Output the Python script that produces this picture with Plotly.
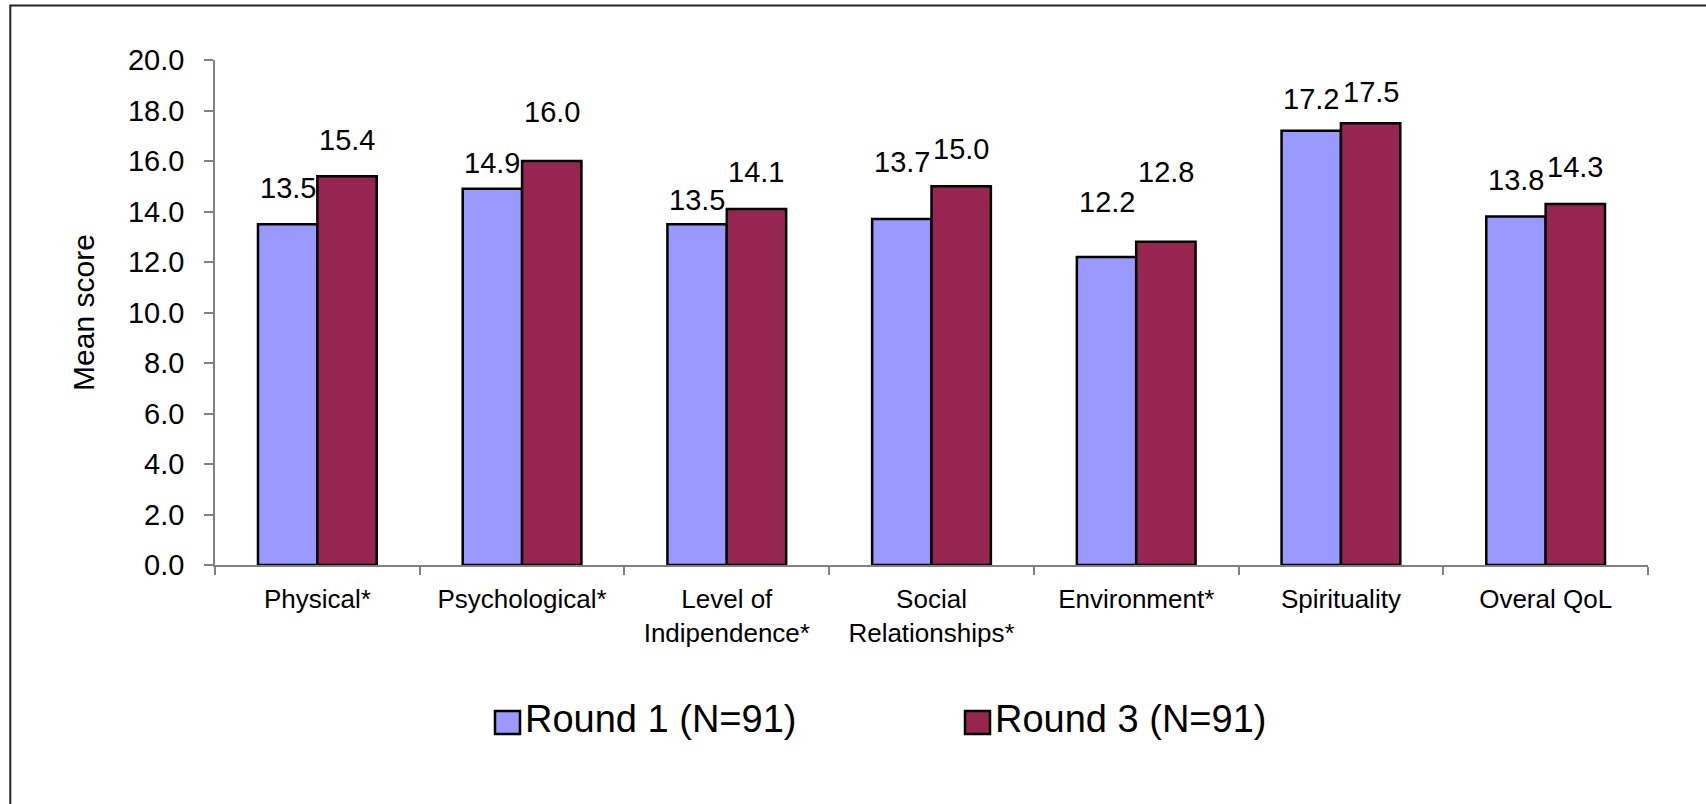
import plotly.graph_objects as go

# WHOQOL domain means, two survey rounds
categories = [
    "Physical*",
    "Psychological*",
    "Level of<br>Indipendence*",
    "Social<br>Relationships*",
    "Environment*",
    "Spirituality",
    "Overal QoL",
]
round1 = [13.5, 14.9, 13.5, 13.7, 12.2, 17.2, 13.8]
round3 = [15.4, 16.0, 14.1, 15.0, 12.8, 17.5, 14.3]
series_names = ["Round 1 (N=91)", "Round 3 (N=91)"]
y_ticks = [0, 2, 4, 6, 8, 10, 12, 14, 16, 18, 20]

# label lift above the bar top (px), per label
lift1 = [36, 26, 24, 57, 55, 32, 37]
lift3 = [36, 49, 37, 37, 70, 31, 37]

# styling
W, H = 1706, 804
ML, MR, MT, MB = 215, 58, 60, 239
PW, PH = W - ML - MR, H - MT - MB
FONT = "Liberation Sans, Arial, sans-serif"
COL1 = "#9999FF"
COL3 = "#962651"
AXIS_GREY = "#808080"


def px_x(p):
    return (p - ML) / PW


def px_y(p):
    return (H - MB - p) / PH


fig = go.Figure()
for name, vals, col in [(series_names[0], round1, COL1), (series_names[1], round3, COL3)]:
    fig.add_trace(go.Bar(
        x=categories, y=vals, name=name,
        marker=dict(color=col, line=dict(color="black", width=2.5)),
        showlegend=False,
    ))

# value labels above each bar
bar_px = PW / len(categories) * (1 - 0.42) / 2
for vals, lifts, shift in [(round1, lift1, -bar_px / 2), (round3, lift3, bar_px / 2)]:
    for c, v, lift in zip(categories, vals, lifts):
        fig.add_annotation(
            x=c, y=v, xref="x", yref="y", text=f"{v:.1f}",
            showarrow=False, xanchor="center", yanchor="middle",
            xshift=shift, yshift=lift,
            font=dict(family=FONT, size=29, color="black"),
        )

# legend drawn as swatches + labels below the axis
legend_items = [(series_names[0], COL1, 495), (series_names[1], COL3, 965)]
for name, col, x0 in legend_items:
    fig.add_shape(
        type="rect", xref="paper", yref="paper",
        x0=px_x(x0), x1=px_x(x0 + 25), y0=px_y(734), y1=px_y(711),
        fillcolor=col, line=dict(color="black", width=2.5),
    )
    fig.add_annotation(
        x=px_x(x0 + 28), y=px_y(719), xref="paper", yref="paper",
        text=name, showarrow=False, xanchor="left", yanchor="middle",
        font=dict(family=FONT, size=38, color="black"),
    )

# outer chart frame
fig.add_shape(
    type="rect", xref="paper", yref="paper",
    x0=px_x(10.3), x1=px_x(W + 30), y0=px_y(H + 30), y1=px_y(5.5),
    line=dict(color="#222222", width=2), fillcolor="rgba(0,0,0,0)",
)

fig.update_layout(
    width=W, height=H,
    margin=dict(l=ML, r=MR, t=MT, b=MB),
    paper_bgcolor="white", plot_bgcolor="white",
    barmode="group", bargap=0.42, bargroupgap=0,
    font=dict(family=FONT, color="black"),
)
fig.update_xaxes(
    showline=True, linecolor=AXIS_GREY, linewidth=1.5,
    ticks="outside", tickson="boundaries", ticklen=8, tickcolor=AXIS_GREY, tickwidth=1.5,
    tickfont=dict(family=FONT, size=26, color="black"),
    ticklabelstandoff=10,
    showgrid=False, zeroline=False,
)
fig.update_yaxes(
    range=[0, 20], tickvals=y_ticks, tickformat=".1f",
    showline=True, linecolor=AXIS_GREY, linewidth=1.5,
    ticks="outside", ticklen=9, tickcolor=AXIS_GREY, tickwidth=1.5,
    tickfont=dict(family=FONT, size=29, color="black"),
    ticklabelstandoff=14,
    showgrid=False, zeroline=False,
    title=dict(text="Mean score", font=dict(family=FONT, size=30, color="black"), standoff=24),
)

fig.write_html("out.html")
